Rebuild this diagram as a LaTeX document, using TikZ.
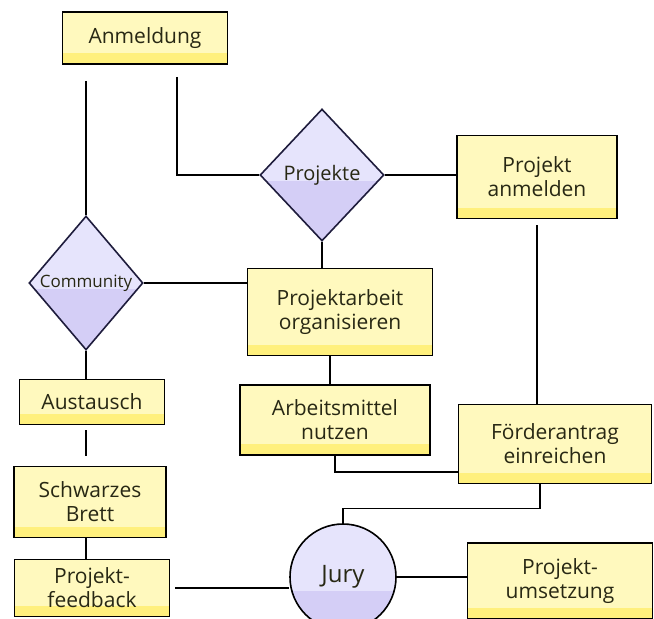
\documentclass[tikz,border=0pt]{standalone}
\usepackage{fontspec}
\setmainfont{Open Sans}
\usetikzlibrary{shapes.geometric}
\definecolor{boxfill}{RGB}{255,249,190}
\definecolor{boxband}{RGB}{255,240,125}
\definecolor{lav}{RGB}{230,228,252}
\definecolor{lavdark}{RGB}{212,206,246}
\definecolor{ink}{RGB}{40,40,20}
\definecolor{navy}{RGB}{30,28,60}
\tikzset{
  box/.style={draw=black, line width=1.6pt, fill=boxfill, text=ink, align=center,
    inner sep=2pt, font=\fontsize{21}{24}\selectfont,
    path picture={\fill[boxband] (path picture bounding box.south west) rectangle ([yshift=11pt]path picture bounding box.south east);}},
  deci/.style={diamond, draw=navy, line width=1.6pt, fill=lav, text=ink, inner sep=0pt,
    path picture={\fill[lavdark] ([yshift=-6pt]path picture bounding box.west) -- (path picture bounding box.south) -- ([yshift=-6pt]path picture bounding box.east) -- cycle;}},
  conn/.style={draw=black, line width=1.5pt}
}
\begin{document}
\begin{tikzpicture}[x=1pt,y=-1pt]
\useasboundingbox (0,0) rectangle (654,619);
\node[box, minimum width=165pt, minimum height=52pt] (anm) at (145,38) {Anmeldung};
\node[deci, minimum width=124pt, minimum height=132pt, font=\fontsize{20}{22}\selectfont] (pro) at (322,175) {\makebox[0pt]{Projekte}};
\node[box, minimum width=160pt, minimum height=83pt] (panm) at (537,177) {Projekt\\anmelden};
\node[deci, minimum width=114pt, minimum height=134pt, font=\fontsize{17}{19}\selectfont] (com) at (86,283) {\makebox[0pt]{Community}};
\node[box, minimum width=185pt, minimum height=87pt] (parb) at (340,312) {Projektarbeit\\organisieren};
\node[box, minimum width=190pt, minimum height=70pt] (arb) at (335,420) {Arbeitsmittel\\nutzen};
\node[box, minimum width=193pt, minimum height=79pt] (foe) at (555,444) {Förderantrag\\einreichen};
\node[box, minimum width=145pt, minimum height=45pt] (aus) at (92,402) {Austausch};
\node[box, minimum width=152pt, minimum height=71pt] (sb) at (90,502) {Schwarzes\\Brett};
\node[box, minimum width=155pt, minimum height=57pt] (fb) at (92,588) {Projekt-\\feedback};
\node[circle, draw=black, line width=1.6pt, fill=lav, text=ink, minimum size=106pt, inner sep=0pt,
  font=\fontsize{24}{26}\selectfont,
  path picture={\fill[lavdark] ([yshift=-14pt]path picture bounding box.west) rectangle (path picture bounding box.south east);}] (jury) at (343,577) {Jury};
\node[box, minimum width=185pt, minimum height=76pt] (ums) at (560,581) {Projekt-\\umsetzung};
% connectors
\draw[conn] (com.north |- anm.south) ++(0,16) -- (com.north);
\draw[conn] ([xshift=32pt,yshift=-12pt]anm.south) |- (pro.west);
\draw[conn] (pro.east) -- (pro.east -| panm.west);
\draw[conn] (pro.south) -- (pro.south |- parb.north);
\draw[conn] (com.east) -- (com.east -| parb.west);
\draw[conn] (com.south) -- (com.south |- aus.north);
\draw[conn] ([yshift=-5pt]aus.south -| com.south) -- ([yshift=10pt]sb.north -| com.south);
\draw[conn] (sb.south -| com.south) -- (fb.north -| com.south);
\draw[conn] ([xshift=-5pt]arb.north) -- ([xshift=-5pt]arb.north |- parb.south);
\draw[conn] ([yshift=-6pt]panm.south) -- (panm.south |- foe.north);
\draw[conn] (arb.south) |- ([yshift=-28pt]foe.west);
\draw[conn] ([xshift=-15pt]foe.south) -- ++(0,24) -| (jury.north);
\draw[conn] (jury.east) -- (jury.east -| ums.west);
\draw[conn] ([xshift=5pt]fb.east) -- (jury.west |- fb.east);
\end{tikzpicture}
\end{document}
